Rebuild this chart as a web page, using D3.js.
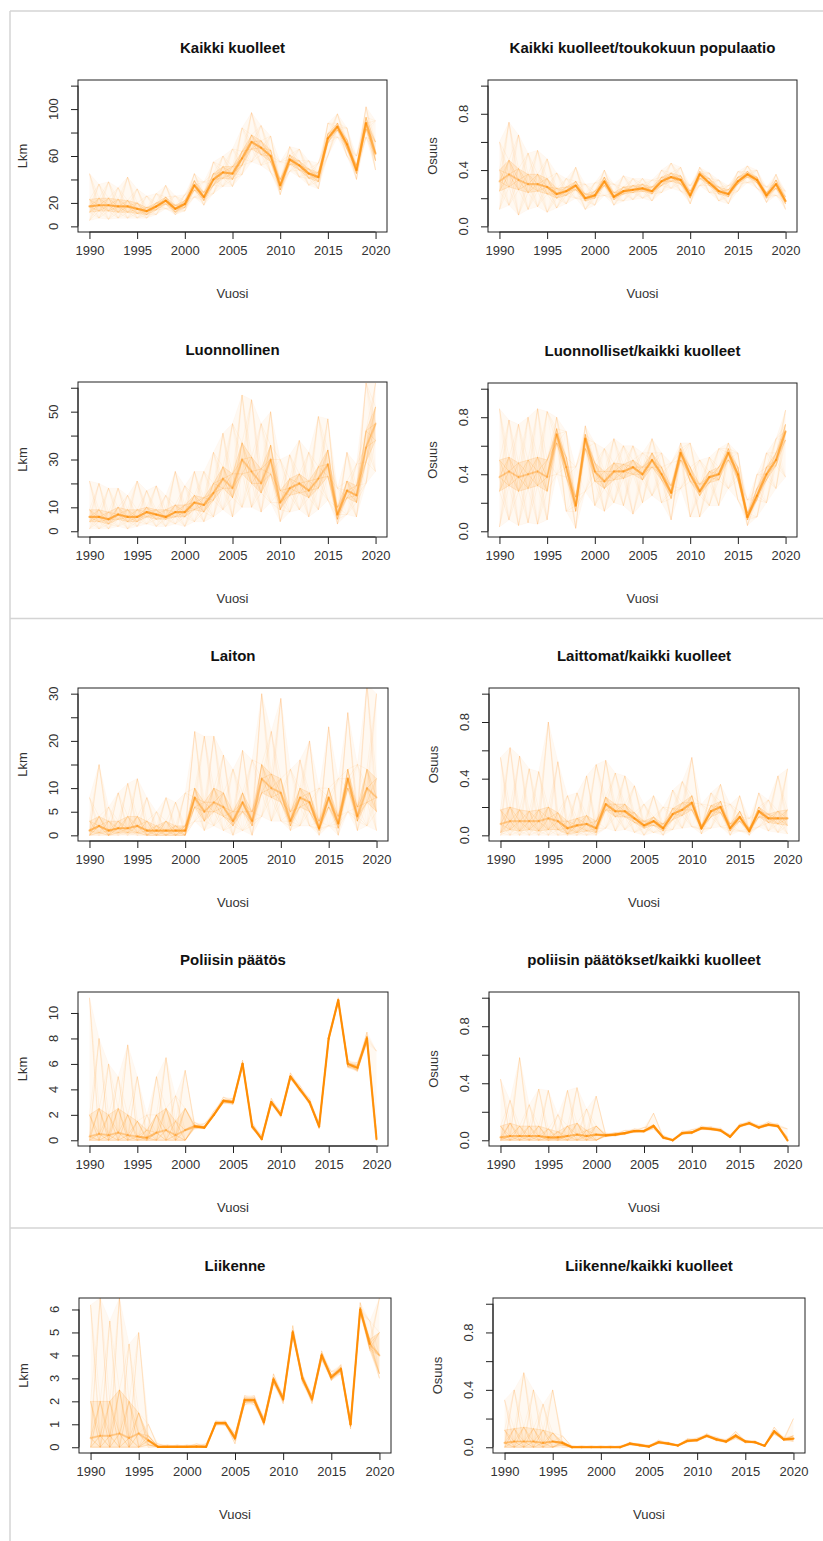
<!DOCTYPE html>
<html>
<head>
<meta charset="utf-8">
<script src="https://cdn.jsdelivr.net/npm/d3@7"></script>
<style>
  html, body { margin: 0; padding: 0; background: #fff; }
  svg { display: block; }
  text { font-family: "Liberation Sans", Arial, Helvetica, sans-serif; }
</style>
</head>
<body>
<svg id="chart" width="823" height="1541"></svg>
<script>
// Years on the x axis
const years = [1990,1991,1992,1993,1994,1995,1996,1997,1998,1999,2000,2001,2002,2003,2004,2005,
               2006,2007,2008,2009,2010,2011,2012,2013,2014,2015,2016,2017,2018,2019,2020];
const xTicks = [1990, 1995, 2000, 2005, 2010, 2015, 2020];

// Simulated trajectories summarised per year: outer range (lo/hi), dense core (q1/q3), centre (med)
// Kaikki kuolleet (count)
const kaikkiLo  = [5,7,6,7,7,7,7,10,15,10,13,25,18,28,34,34,44,55,52,46,27,47,42,35,32,60,76,60,40,76,48];
const kaikkiQ1  = [12,13,13,12,12,11,10,14,19,12,16,31,22,35,41,40,52,66,61,55,31,53,48,41,38,71,82,66,45,83,56];
const kaikkiMed = [17,18,18,17,17,15,13,17,22,15,19,35,25,40,46,45,58,72,67,60,35,57,52,45,42,75,85,70,48,88,62];
const kaikkiQ3  = [23,24,24,23,22,20,16,20,25,18,22,39,29,45,51,51,64,78,73,65,40,61,56,49,46,79,88,74,52,93,72];
const kaikkiHi  = [45,36,38,33,42,32,26,28,35,26,27,45,38,55,60,66,84,97,86,77,55,68,66,56,54,88,96,84,60,102,90];

// Kaikki kuolleet / toukokuun populaatio (share)
const popLo  = [.12,.15,.08,.12,.14,.10,.13,.16,.20,.12,.15,.22,.15,.18,.19,.20,.18,.24,.27,.25,.16,.29,.24,.18,.16,.25,.31,.27,.17,.22,.12];
const popQ1  = [.25,.28,.26,.24,.25,.23,.20,.22,.26,.18,.20,.29,.19,.23,.24,.25,.23,.29,.32,.30,.20,.34,.29,.23,.21,.30,.35,.31,.20,.27,.16];
const popMed = [.32,.37,.33,.30,.30,.28,.23,.25,.29,.20,.22,.32,.21,.25,.26,.27,.25,.32,.35,.33,.22,.37,.31,.25,.23,.32,.37,.33,.22,.30,.18];
const popQ3  = [.40,.47,.41,.37,.37,.34,.27,.28,.32,.23,.25,.35,.24,.28,.29,.30,.28,.35,.38,.36,.25,.39,.34,.28,.26,.35,.39,.35,.24,.33,.21];
const popHi  = [.60,.74,.65,.52,.54,.48,.38,.34,.42,.30,.31,.40,.30,.36,.34,.34,.33,.40,.45,.42,.29,.42,.38,.33,.29,.39,.43,.40,.28,.37,.25];

// Luonnollinen (count)
const luonLo  = [1,1,1,2,1,2,3,2,2,3,2,4,4,6,9,6,10,10,8,12,4,8,9,6,9,13,3,7,6,20,25];
const luonQ1  = [4,4,3,5,4,4,6,5,5,6,6,9,8,13,18,14,24,20,16,24,9,15,16,14,18,23,5,14,12,29,38];
const luonMed = [6,6,5,7,6,6,8,7,6,8,8,12,11,16,22,18,30,25,20,30,12,18,20,17,22,28,7,17,15,35,45];
const luonQ3  = [9,9,8,10,9,9,10,9,9,11,11,15,14,20,27,24,37,31,26,36,17,22,24,21,27,34,10,21,19,42,52];
const luonHi  = [21,20,18,18,15,21,17,19,15,25,19,25,25,33,41,45,57,55,45,50,30,32,38,33,48,47,18,33,28,62,62];

// Luonnolliset / kaikki kuolleet (share)
const luonOsLo  = [.03,.08,.04,.06,.05,.08,.40,.14,.02,.28,.18,.14,.20,.18,.12,.20,.25,.20,.08,.30,.10,.10,.18,.18,.30,.22,.04,.10,.20,.30,.38];
const luonOsQ1  = [.28,.32,.28,.30,.32,.28,.62,.38,.14,.58,.35,.30,.36,.37,.40,.36,.45,.36,.23,.50,.35,.25,.34,.36,.50,.36,.08,.22,.36,.46,.64];
const luonOsMed = [.38,.42,.38,.40,.42,.38,.68,.45,.18,.65,.42,.35,.42,.42,.45,.40,.50,.40,.27,.55,.40,.28,.38,.40,.55,.40,.10,.25,.40,.50,.70];
const luonOsQ3  = [.50,.52,.48,.50,.52,.50,.72,.52,.24,.68,.48,.42,.48,.47,.50,.45,.55,.45,.32,.58,.45,.33,.42,.45,.58,.45,.13,.30,.45,.55,.75];
const luonOsHi  = [.86,.78,.75,.80,.86,.84,.80,.70,.45,.74,.62,.58,.65,.60,.60,.55,.65,.55,.48,.62,.62,.50,.52,.58,.62,.55,.22,.40,.55,.65,.85];

// Laiton (count)
const laitonLo  = [0,0,0,0,0,0,0,0,0,0,0,3,1,2,1,0,1,0,4,3,3,1,2,2,0,2,0,5,1,2,1];
const laitonQ1  = [0,0.5,0,0.5,0.5,0.5,0,0,0,0,0,6,3,5,4,2,5,2,9,8,7,2,6,5,1,6,1.5,10,3,7,5];
const laitonMed = [1,2,1,1.5,1.5,2,1,1,1,1,1,8,5,7,6,3,7,3,12,10,9,3,8,7,1.5,8,2.5,12,4,10,8];
const laitonQ3  = [3,4,3,3,4,4,3,2,3,2,2,10,7,10,9,5,9,5,15,13,12,5,10,9,3,10,4,14,6,14,12];
const laitonHi  = [8,15,6,9,11,12,8,5,8,7,9,22,21,21,17,14,18,16,30,22,29,14,16,20,10,23,12,26,15,32,30];

// Laittomat / kaikki kuolleet (share)
const laitOsLo  = [0,0,0,0,0,0,0,0,0,0,0,.05,.03,.04,.02,0,.02,0,.04,.05,.06,.01,.05,.06,0,.03,0,.06,.03,.02,.01];
const laitOsQ1  = [.02,.04,.03,.04,.03,.04,.04,.01,.02,.03,.02,.18,.13,.13,.09,.05,.07,.03,.11,.14,.18,.04,.13,.16,.03,.10,.02,.13,.09,.08,.07];
const laitOsMed = [.08,.10,.10,.10,.10,.12,.10,.05,.07,.08,.05,.22,.17,.17,.12,.07,.10,.05,.15,.18,.23,.05,.17,.20,.05,.13,.03,.17,.12,.12,.12];
const laitOsQ3  = [.18,.20,.18,.17,.18,.20,.16,.10,.12,.14,.10,.27,.22,.22,.16,.10,.13,.08,.19,.23,.28,.07,.21,.24,.08,.17,.05,.20,.15,.17,.18];
const laitOsHi  = [.55,.62,.56,.47,.45,.80,.52,.28,.30,.42,.50,.53,.44,.42,.35,.22,.28,.20,.32,.38,.55,.22,.30,.36,.22,.28,.12,.30,.25,.42,.47];

// Poliisin päätös (count)
const poliisiLo  = [0,0,0,0,0,0,0,0,0,0,0,0.9,0.9,1.9,2.9,2.8,5.8,0.9,0,2.8,1.8,4.8,3.8,2.8,0.9,7.8,10.8,5.7,5.4,7.6,0];
const poliisiQ1  = [0,0,0,0,0,0,0,0,0,0,0,1.0,0.95,1.95,3.0,2.9,5.9,1.0,0.05,2.9,1.9,4.9,3.9,2.9,1.0,7.9,10.9,5.8,5.5,7.8,0.05];
const poliisiMed = [0.3,0.5,0.4,0.6,0.4,0.3,0.2,0.6,0.8,0.4,0.8,1.1,1.0,2.0,3.1,3.0,6.0,1.1,0.1,3.0,2.0,5.0,4.0,3.0,1.1,8.0,11.0,6.0,5.7,8.0,0.1];
const poliisiQ3  = [2,2.5,2,2.5,2,1.5,0.8,2,2.5,1.5,2.5,1.2,1.1,2.1,3.2,3.1,6.1,1.2,0.2,3.1,2.1,5.1,4.1,3.1,1.2,8.1,11.1,6.1,5.9,8.2,0.5];
const poliisiHi  = [11.2,8,6,5,7.5,5,2,5,6.5,3.5,5.5,1.4,1.3,2.3,3.4,3.3,6.3,1.4,0.4,3.3,2.3,5.3,4.3,3.3,1.4,8.3,11.2,6.3,6.1,8.5,7];

// Poliisin päätökset / kaikki kuolleet (share)
const polOsLo  = [0,0,0,0,0,0,0,0,0,0,0,.025,.03,.04,.055,.055,.08,.01,0,.04,.045,.075,.07,.06,.015,.09,.11,.08,.10,.09,0];
const polOsQ1  = [0,0,0,0,0,0,0,0,0,0,0,.03,.035,.045,.06,.06,.09,.015,0,.045,.05,.08,.075,.065,.02,.095,.115,.085,.105,.095,0];
const polOsMed = [.02,.03,.03,.03,.03,.02,.02,.03,.04,.03,.04,.035,.04,.05,.065,.065,.10,.02,0,.05,.055,.085,.08,.07,.025,.10,.12,.09,.11,.10,0];
const polOsQ3  = [.10,.12,.10,.10,.10,.08,.06,.10,.12,.07,.10,.04,.045,.055,.07,.07,.11,.025,.005,.055,.06,.09,.085,.075,.03,.105,.125,.095,.115,.105,.02];
const polOsHi  = [.43,.28,.58,.25,.36,.35,.18,.35,.37,.22,.31,.05,.055,.07,.08,.09,.19,.035,.01,.065,.075,.10,.095,.085,.04,.115,.135,.105,.13,.115,.08];

// Liikenne (count)
const liikLo  = [0,0,0,0,0,0,0,0,0,0,0,0,0,0.95,0.95,0.15,1.85,1.85,0.95,2.75,1.9,4.8,2.8,1.9,3.8,2.9,3.2,0.8,5.8,4.2,3.0];
const liikQ1  = [0,0,0,0,0,0,0.1,0,0,0,0,0,0,1.0,1.0,0.3,1.95,1.95,1.0,2.85,2.0,4.9,2.9,2.0,3.9,2.95,3.3,0.9,5.9,4.3,3.2];
const liikMed = [0.4,0.5,0.5,0.6,0.4,0.6,0.3,0.02,0.02,0.02,0.02,0.03,0.02,1.05,1.05,0.4,2.05,2.05,1.1,2.95,2.1,5.0,3.0,2.1,4.0,3.05,3.4,1.0,6.0,4.5,4.0];
const liikQ3  = [2,2,2,2.5,2,1.5,0.5,0.05,0.05,0.05,0.05,0.06,0.06,1.1,1.1,0.5,2.15,2.15,1.2,3.05,2.2,5.1,3.1,2.2,4.1,3.15,3.5,1.1,6.1,4.7,5.0];
const liikHi  = [6.2,6.5,5.5,6.5,4.5,5.0,1.0,0.15,0.1,0.1,0.1,0.15,0.15,1.15,1.15,0.6,2.25,2.25,1.3,3.2,2.3,5.3,3.2,2.3,4.2,3.3,3.6,1.2,6.3,5.5,6.5];

// Liikenne / kaikki kuolleet (share)
const liikOsLo  = [0,0,0,0,0,0,0,0,0,0,0,0,0,.015,.008,0,.025,.018,.008,.035,.04,.07,.045,.03,.06,.03,.03,.005,.09,.045,.04];
const liikOsQ1  = [0,0,0,0,0,0,.015,0,0,0,0,0,0,.02,.01,.002,.03,.02,.01,.04,.045,.075,.05,.035,.07,.035,.03,.008,.1,.05,.05];
const liikOsMed = [.03,.04,.04,.04,.03,.04,.03,0,0,0,0,0,0,.025,.015,.005,.035,.025,.012,.045,.05,.08,.055,.04,.08,.04,.035,.01,.11,.055,.06];
const liikOsQ3  = [.12,.13,.14,.13,.12,.10,.04,.005,.003,.003,.003,.003,.003,.03,.02,.01,.04,.03,.015,.05,.055,.085,.06,.045,.09,.045,.04,.012,.12,.06,.08];
const liikOsHi  = [.33,.40,.52,.40,.30,.40,.08,.01,.01,.01,.01,.01,.01,.035,.025,.015,.05,.035,.02,.06,.065,.095,.07,.055,.11,.05,.045,.015,.14,.07,.2];

// Panel titles, axis titles and y-axis ranges / ticks
const titles = ["Kaikki kuolleet", "Kaikki kuolleet/toukokuun populaatio",
                "Luonnollinen", "Luonnolliset/kaikki kuolleet",
                "Laiton", "Laittomat/kaikki kuolleet",
                "Poliisin päätös", "poliisin päätökset/kaikki kuolleet",
                "Liikenne", "Liikenne/kaikki kuolleet"];
const countLabel = "Lkm";
const shareLabel = "Osuus";
const xLabel = "Vuosi";
const shareTicks = [0, 0.2, 0.4, 0.6, 0.8, 1.0];
const shareTickLabels = [0, 0.4, 0.8];

const panelData = [
  {ylim: [0, 120], ticks: [0,20,40,60,80,100,120], labels: [0,20,60,100], share: false,
   lo: kaikkiLo, q1: kaikkiQ1, med: kaikkiMed, q3: kaikkiQ3, hi: kaikkiHi},
  {ylim: [0, 1], ticks: shareTicks, labels: shareTickLabels, share: true,
   lo: popLo, q1: popQ1, med: popMed, q3: popQ3, hi: popHi},
  {ylim: [0, 60], ticks: [0,10,20,30,40,50,60], labels: [0,10,30,50], share: false,
   lo: luonLo, q1: luonQ1, med: luonMed, q3: luonQ3, hi: luonHi},
  {ylim: [0, 1], ticks: shareTicks, labels: shareTickLabels, share: true,
   lo: luonOsLo, q1: luonOsQ1, med: luonOsMed, q3: luonOsQ3, hi: luonOsHi},
  {ylim: [0, 30], ticks: [0,5,10,15,20,25,30], labels: [0,5,10,20,30], share: false,
   lo: laitonLo, q1: laitonQ1, med: laitonMed, q3: laitonQ3, hi: laitonHi},
  {ylim: [0, 1], ticks: shareTicks, labels: shareTickLabels, share: true,
   lo: laitOsLo, q1: laitOsQ1, med: laitOsMed, q3: laitOsQ3, hi: laitOsHi},
  {ylim: [0, 11.2], ticks: [0,2,4,6,8,10], labels: [0,2,4,6,8,10], share: false,
   lo: poliisiLo, q1: poliisiQ1, med: poliisiMed, q3: poliisiQ3, hi: poliisiHi},
  {ylim: [0, 1], ticks: shareTicks, labels: shareTickLabels, share: true,
   lo: polOsLo, q1: polOsQ1, med: polOsMed, q3: polOsQ3, hi: polOsHi},
  {ylim: [0, 6.25], ticks: [0,1,2,3,4,5,6], labels: [0,1,2,3,4,5,6], share: false,
   lo: liikLo, q1: liikQ1, med: liikMed, q3: liikQ3, hi: liikHi},
  {ylim: [0, 1], ticks: shareTicks, labels: shareTickLabels, share: true,
   lo: liikOsLo, q1: liikOsQ1, med: liikOsMed, q3: liikOsQ3, hi: liikOsHi}
];

// Plot-box geometry of each panel (left, right, top, bottom) in page pixels
const boxes = [
  [78, 387, 80, 232],   [488, 797, 80, 232],
  [78, 387, 382, 537],  [488, 797, 383, 537],
  [78, 388, 688, 841],  [489, 799, 688, 841],
  [78, 388, 992, 1146], [489, 799, 992, 1146],
  [79, 391, 1298, 1453],[493, 805, 1298, 1453]
];

const ORANGE = "#ff8c00";
const INK = "#222";
const levelWeights = [0.4, 0.85, 1, 0.85, 0.4];   // lo, q1, med, q3, hi
const svg = d3.select("#chart");

// Frame lines of the page
const frame = svg.append("g").attr("stroke", "#d4d4d4").attr("stroke-width", 1.5);
frame.append("line").attr("x1", 10).attr("x2", 823).attr("y1", 11).attr("y2", 11);
frame.append("line").attr("x1", 10).attr("x2", 10).attr("y1", 11).attr("y2", 1541);
frame.append("line").attr("x1", 10).attr("x2", 823).attr("y1", 618.5).attr("y2", 618.5);
frame.append("line").attr("x1", 10).attr("x2", 823).attr("y1", 1228).attr("y2", 1228);

// R-style 4% padding around a data range
function padded(r) {
  const d = r[1] - r[0];
  return [r[0] - 0.04 * d, r[1] + 0.04 * d];
}

panelData.forEach((p, i) => {
  const [L, R, T, B] = boxes[i];
  const g = svg.append("g");

  const x = d3.scaleLinear().domain(padded([1990, 2020])).range([L, R]);
  const y = d3.scaleLinear().domain(padded(p.ylim)).range([B, T]);
  const span = p.ylim[1] - p.ylim[0];

  const clipId = "clip" + i;
  svg.append("clipPath").attr("id", clipId)
    .append("rect").attr("x", L).attr("y", T).attr("width", R - L).attr("height", B - T);

  const plot = g.append("g").attr("clip-path", `url(#${clipId})`);
  const idx = years.map((_, k) => k);
  const levels = [p.lo, p.q1, p.med, p.q3, p.hi];

  const band = (a, b) => d3.area()
    .x(k => x(years[k])).y0(k => y(a[k])).y1(k => y(b[k]))(idx);

  // faint body of the outer spread and the dense core
  plot.append("path").attr("d", band(p.lo, p.hi))
    .attr("fill", ORANGE).attr("fill-opacity", 0.05);
  plot.append("path").attr("d", band(p.q1, p.q3))
    .attr("fill", ORANGE).attr("fill-opacity", 0.12);

  // year-to-year transitions between every pair of levels: a mesh of faint trajectories
  const segs = [];
  for (let k = 0; k < years.length - 1; k++) {
    levels.forEach((A, a) => {
      levels.forEach((Bv, b) => {
        segs.push({x1: x(years[k]), y1: y(A[k]), x2: x(years[k + 1]), y2: y(Bv[k + 1]),
                   op: 0.2 * levelWeights[a] * levelWeights[b]});
      });
    });
  }
  plot.append("g").selectAll("line").data(segs).join("line")
    .attr("x1", d => d.x1).attr("y1", d => d.y1)
    .attr("x2", d => d.x2).attr("y2", d => d.y2)
    .attr("stroke", ORANGE).attr("stroke-opacity", d => d.op).attr("stroke-width", 1);

  // centre line, stronger where trajectories agree
  const medSegs = idx.slice(0, -1).map(k => {
    const spread = ((p.q3[k] - p.q1[k]) + (p.q3[k + 1] - p.q1[k + 1])) / 2 / span;
    return {k, op: Math.max(0.25, Math.min(0.95, 1.0 - spread * 5))};
  });
  plot.append("g").selectAll("line").data(medSegs).join("line")
    .attr("x1", d => x(years[d.k])).attr("y1", d => y(p.med[d.k]))
    .attr("x2", d => x(years[d.k + 1])).attr("y2", d => y(p.med[d.k + 1]))
    .attr("stroke", ORANGE).attr("stroke-opacity", d => d.op)
    .attr("stroke-width", 2.2).attr("stroke-linecap", "round");

  // box
  g.append("rect").attr("x", L).attr("y", T).attr("width", R - L).attr("height", B - T)
    .attr("fill", "none").attr("stroke", INK).attr("stroke-width", 1);

  // x axis
  const xAxis = g.append("g").attr("transform", `translate(0,${B})`)
    .call(d3.axisBottom(x).tickValues(xTicks).tickSize(7).tickPadding(7).tickFormat(d3.format("d")));
  xAxis.select(".domain").attr("d", `M${x(1990)},0H${x(2020)}`).attr("stroke", INK);
  xAxis.selectAll(".tick line").attr("stroke", INK);
  xAxis.selectAll(".tick text").attr("font-size", 13).attr("fill", "#333")
    .attr("font-family", "'Liberation Sans', Arial, sans-serif");

  // y axis
  const yAxis = g.append("g").attr("transform", `translate(${L},0)`)
    .call(d3.axisLeft(y).tickValues(p.ticks).tickSize(7).tickFormat(() => ""));
  yAxis.select(".domain")
    .attr("d", `M0,${y(p.ticks[0])}V${y(p.ticks[p.ticks.length - 1])}`).attr("stroke", INK);
  yAxis.selectAll(".tick line").attr("stroke", INK);

  const fmt = p.share ? d3.format(".1f") : d3.format("d");
  g.selectAll(null).data(p.labels).join("text")
    .attr("transform", d => `translate(${L - 25},${y(d)}) rotate(-90)`)
    .attr("dy", "0.35em").attr("text-anchor", "middle")
    .attr("font-size", 13).attr("fill", "#333")
    .text(fmt);

  // axis titles
  g.append("text")
    .attr("transform", `translate(${L - 56},${(T + B) / 2}) rotate(-90)`)
    .attr("dy", "0.35em").attr("text-anchor", "middle")
    .attr("font-size", 13).attr("fill", "#333")
    .text(p.share ? shareLabel : countLabel);

  g.append("text")
    .attr("x", (L + R) / 2).attr("y", B + 61).attr("dy", "0.35em")
    .attr("text-anchor", "middle").attr("font-size", 13).attr("fill", "#333")
    .text(xLabel);

  // panel title
  g.append("text")
    .attr("x", (L + R) / 2).attr("y", T - 32).attr("dy", "0.35em")
    .attr("text-anchor", "middle").attr("font-size", 15).attr("font-weight", "bold")
    .attr("fill", "#111")
    .text(titles[i]);
});
</script>
</body>
</html>
